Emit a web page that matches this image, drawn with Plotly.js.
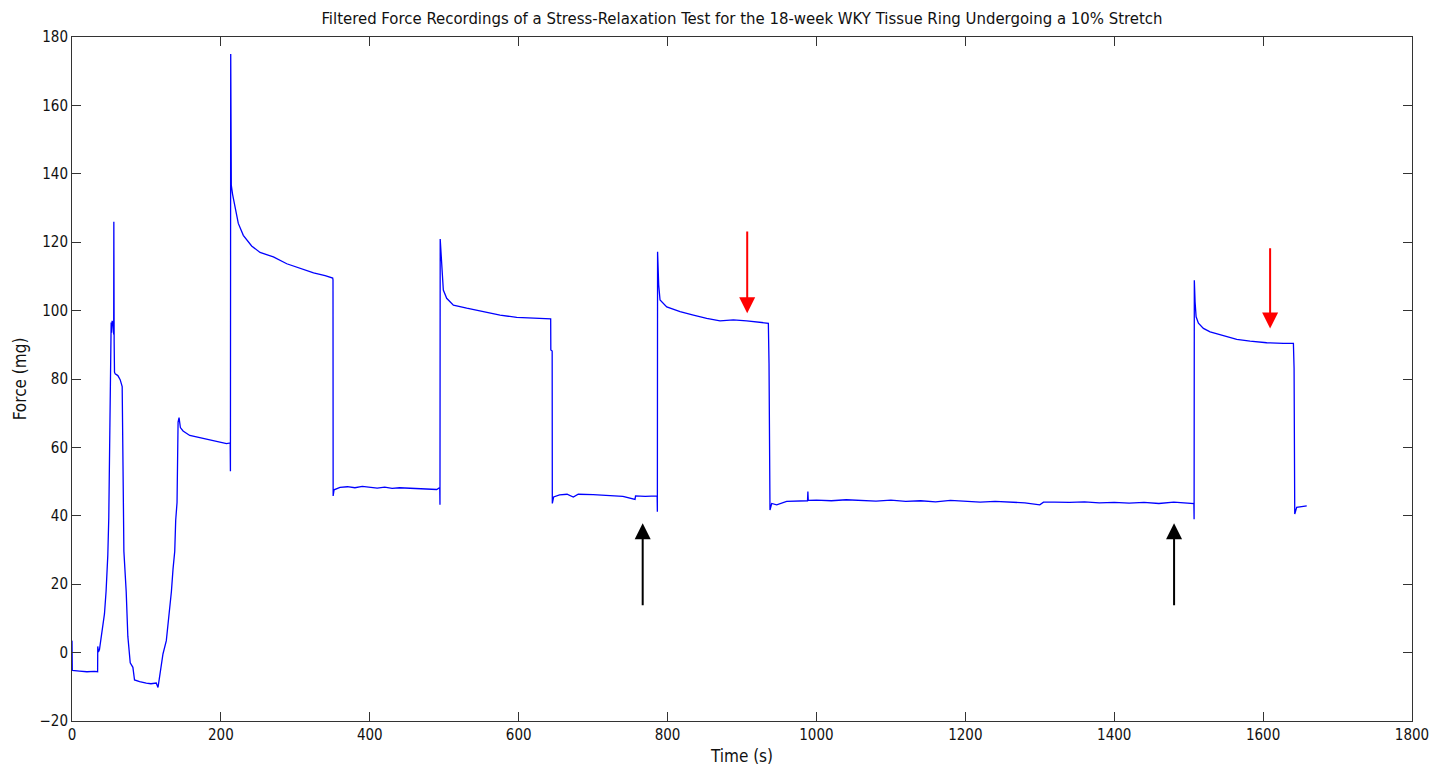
<!DOCTYPE html>
<html>
<head>
<meta charset="utf-8">
<script src="https://cdn.plot.ly/plotly-3.0.1.min.js"></script>
<style>html,body{margin:0;padding:0;background:#fff;}#chart{width:1434px;height:770px;}</style>
</head>
<body>
<div id="chart"></div>
<script>
// Time (s)
const timeS = [
  0, 0.4, 10, 20, 30, 34.4, 34.6, 35.5, 36.9, 39.1, 41.3, 43.6, 45.8, 48.1, 49.4, 51.2, 52.6, 53.2, 53.9, 55.3,
  56.0, 56.2, 56.6, 57.1, 58.0, 61.6, 64.7, 67.4, 68.3, 69.7, 72.8, 75.0, 78.2, 81.8, 84.0, 90.8, 99.8, 106, 113.2, 115.5,
  117.7, 122.2, 126.7, 131.2, 133.5, 135.7, 138.0, 139.3, 141.1, 142.5, 143.8, 145.6, 149.2, 158.2, 171.7, 185.2, 200.0, 207.6, 212.5, 212.8,
  213.2, 213.5, 214.0, 215.7, 218.9, 223.4, 230.1, 241.3, 252.6, 270.5, 288.5, 306.5, 324.5, 340.0, 350.2,
  350.6, 350.8, 352, 360, 370, 380, 390, 400, 410, 420, 430, 440, 450, 460, 470, 480, 490, 494,
  494.3, 494.6, 497.5, 498.8, 503.3, 512.3, 530.2, 552.6, 575, 597.4, 619.7, 642.1, 643, 643.2, 645, 645.2,
  647, 655, 665, 673.4, 680, 700, 720, 740, 756.3, 757, 770, 786,
  786.3, 786.6, 788.1, 789.9, 798.9, 816.8, 834.7, 852.6, 870.5, 888.4, 906.3, 924.2, 935.4, 936.3, 936.5, 936.6, 937.6,
  939.9, 946.6, 960, 977.9, 988, 988.5, 989, 1000, 1020, 1040, 1060, 1080, 1100, 1120, 1140, 1160, 1180, 1200, 1220, 1240,
  1260, 1280, 1300, 1305, 1320, 1340, 1360, 1380, 1400, 1420, 1440, 1460, 1480, 1500, 1507,
  1507.3, 1507.6, 1508.6, 1510, 1513.1, 1519.8, 1528.8, 1546.7, 1564.6, 1582.5, 1604.9, 1627.3, 1640.7, 1641.6, 1642.5, 1645.1, 1658.6
];
// Force (mg)
const forceMg = [
  3.5, -5.2, -5.4, -5.6, -5.5, -5.6, 1.8, 0.2, 0.9, 4.8, 8.0, 11.3, 18.0, 28.5, 39.4, 71.3, 96.5, 93.5, 97.0, 96.0,
  93.0, 126.0, 91.0, 82.0, 81.5, 81.0, 79.8, 77.8, 46.5, 29.6, 17.8, 4.8, -3.0, -4.3, -8.0, -8.5, -8.9, -9.1, -8.9, -10.2,
  -7.0, -0.4, 3.5, 12.6, 17.8, 24.4, 29.6, 38.7, 43.9, 67.4, 68.7, 65.8, 64.8, 63.5, 62.8, 62.2, 61.5, 61.1, 61.3, 53.0,
  175.0, 141.8, 136.6, 134.0, 130.0, 125.5, 122.0, 118.9, 117.0, 115.7, 113.7, 112.4, 111.0, 110.2, 109.5,
  109.0, 45.8, 47.6, 48.3, 48.5, 48.2, 48.6, 48.3, 48.1, 48.4, 48.0, 48.2, 48.1, 47.9, 48.0, 47.8, 47.7, 48.3,
  43.2, 120.9, 109.0, 106.0, 103.6, 101.6, 100.7, 99.7, 98.7, 98.0, 97.7, 97.4, 97.6, 88.5, 88.2, 43.6,
  45.5, 46.1, 46.3, 45.5, 46.3, 46.2, 46.0, 45.7, 44.8, 45.8, 45.7, 45.8,
  41.2, 117.2, 107.5, 103.1, 101.1, 99.7, 98.7, 97.7, 97.0, 97.3, 97.0, 96.5, 96.3, 84.6, 74.8, 84.0, 41.7,
  43.6, 43.2, 44.2, 44.3, 44.4, 47.1, 44.5, 44.6, 44.4, 44.7, 44.5, 44.3, 44.6, 44.2, 44.4, 44.1, 44.5, 44.3, 44.0, 44.2,
  44.1, 43.8, 43.2, 44.0, 44.0, 43.9, 44.1, 43.8, 43.9, 43.7, 43.9, 43.6, 44.0, 43.6, 43.6,
  39.0, 108.9, 102.6, 98.2, 96.3, 94.8, 93.8, 92.6, 91.6, 91.1, 90.6, 90.4, 90.4, 83.1, 40.5, 42.5, 42.9
];

// Annotation arrows: x position, tip and tail force values
const redArrowX = [907, 1609.4];
const redArrowTip = [99.2, 94.8];
const redArrowTail = [123.6, 118.7];
const blackArrowX = [766.6, 1480.4];
const blackArrowTip = [37.8, 37.8];
const blackArrowTail = [13.4, 13.4];

const FONT = '"Liberation Sans Narrow", "DejaVu Sans Condensed", "Arial Narrow", "Liberation Sans", Arial, sans-serif';
const annotations = [];
function addArrows(xs, tips, tails, color) {
  xs.forEach((x, i) => {
    annotations.push({
      x: x, y: tips[i], ax: x, ay: tails[i], xref: 'x', yref: 'y', axref: 'x', ayref: 'y',
      showarrow: true, arrowhead: 2, arrowsize: 1.6, arrowwidth: 2, arrowcolor: color, text: ''
    });
  });
}
addArrows(redArrowX, redArrowTip, redArrowTail, '#ff0000');
addArrows(blackArrowX, blackArrowTip, blackArrowTail, '#000000');

const axisCommon = {
  showgrid: false, zeroline: false, showline: true, linecolor: '#333333', linewidth: 1,
  mirror: 'ticks', ticks: 'inside', ticklen: 9, tickcolor: '#333333', tickwidth: 1,
  tickfont: {family: FONT, size: 15, color: '#111111'}
};

const layout = {
  width: 1434, height: 770,
  margin: {l: 72, r: 22, t: 37, b: 49},
  paper_bgcolor: '#ffffff', plot_bgcolor: '#ffffff',
  showlegend: false,
  title: {text: 'Filtered Force Recordings of a Stress-Relaxation Test for the 18-week WKY Tissue Ring Undergoing a 10% Stretch',
          font: {family: FONT, size: 16.6, color: '#111111'}, xref: 'paper', x: 0.5, xanchor: 'center', y: 0.977, yanchor: 'middle'},
  xaxis: Object.assign({}, axisCommon, {range: [0, 1800], dtick: 200, tick0: 0,
    title: {text: 'Time (s)', font: {family: FONT, size: 17, color: '#111111'}, standoff: 7}}),
  yaxis: Object.assign({}, axisCommon, {range: [-20, 180], dtick: 20, tick0: 0,
    title: {text: 'Force (mg)', font: {family: FONT, size: 17, color: '#111111'}, standoff: 8}}),
  annotations: annotations
};

const trace = {
  x: timeS, y: forceMg, type: 'scatter', mode: 'lines',
  line: {color: '#0000ff', width: 1.3}, hoverinfo: 'skip'
};

Plotly.newPlot('chart', [trace], layout, {displayModeBar: false, staticPlot: true});
</script>
</body>
</html>
